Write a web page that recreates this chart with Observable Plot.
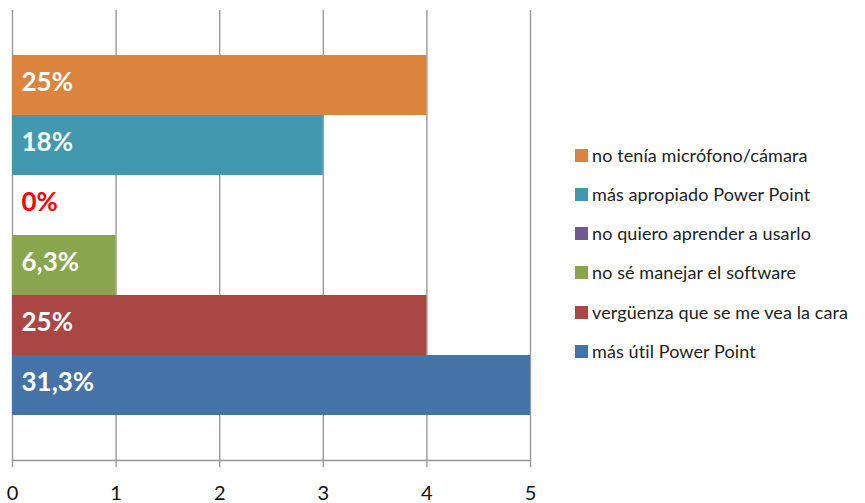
<!DOCTYPE html>
<html>
<head>
<meta charset="utf-8">
<script src="https://cdn.jsdelivr.net/npm/d3@7"></script>
<script src="https://cdn.jsdelivr.net/npm/@observablehq/plot@0.6"></script>
<style>
  html, body { margin: 0; padding: 0; background: #fff; }
  #wrap { position: relative; width: 865px; height: 503px; font-family: Lato, "Open Sans", sans-serif; }
  #legend { position: absolute; left: 575px; top: 0; }
  .row { position: absolute; left: 0; display: flex; align-items: center; white-space: nowrap; font-size: 18px; letter-spacing: 0.1px; color: #222; height: 20px; }
  .sw { width: 13px; height: 13px; margin-right: 4px; flex: none; }
</style>
</head>
<body>
<div id="wrap"></div>
<script>
const categories = [
  "no tenía micrófono/cámara",
  "más apropiado Power Point",
  "no quiero aprender a usarlo",
  "no sé manejar el software",
  "vergüenza que se me vea la cara",
  "más útil Power Point"
];
const counts = [4, 3, 0, 1, 4, 5];
const pctLabels = ["25%", "18%", "0%", "6,3%", "25%", "31,3%"];
const colors = ["#DB843D", "#4198AF", "#71588F", "#89A54E", "#AA4643", "#4572A7"];
const labelColors = ["#fff", "#fff", "#FF0000", "#fff", "#fff", "#fff"];
const xTicks = [0, 1, 2, 3, 4, 5];

const data = categories.map((c, i) => ({cat: c, value: counts[i], label: pctLabels[i], lc: labelColors[i]}));

const chart = Plot.plot({
  width: 865,
  height: 503,
  marginLeft: 12,
  marginRight: 335,
  marginTop: 10,
  marginBottom: 43,
  style: {fontFamily: "Lato, 'Open Sans', sans-serif", background: "#fff", overflow: "visible"},
  x: {domain: [0, 5], ticks: xTicks, label: null},
  y: {domain: categories, paddingInner: 0, paddingOuter: 0.75, axis: null},
  color: {domain: categories, range: colors},
  marks: [
    Plot.gridX(xTicks, {stroke: "#999", strokeOpacity: 1, strokeWidth: 1.4}),
    Plot.frame({anchor: "bottom", stroke: "#999", strokeWidth: 1.4}),
    Plot.barX(data, {x: "value", y: "cat", fill: "cat"}),
    Plot.text(data, {x: 0, y: "cat", text: "label", fill: "lc", textAnchor: "start", dx: 9, dy: -3, fontSize: 26, fontWeight: "bold"}),
    Plot.axisX({ticks: xTicks, tickSize: 7, stroke: "#999", strokeWidth: 1.4, strokeOpacity: 1, tickPadding: 18, fontSize: 20, fill: "#111", tickFormat: d => String(d), label: null})
  ]
});

const wrap = document.getElementById("wrap");
wrap.appendChild(chart);

const legend = document.createElement("div");
legend.id = "legend";
const rowCenters = [155, 194, 233, 272, 312, 351];
categories.forEach((c, i) => {
  const row = document.createElement("div");
  row.className = "row";
  row.style.top = (rowCenters[i] - 10) + "px";
  const sw = document.createElement("span");
  sw.className = "sw";
  sw.style.background = colors[i];
  const t = document.createElement("span");
  t.textContent = c;
  row.appendChild(sw);
  row.appendChild(t);
  legend.appendChild(row);
});
wrap.appendChild(legend);
</script>
</body>
</html>
